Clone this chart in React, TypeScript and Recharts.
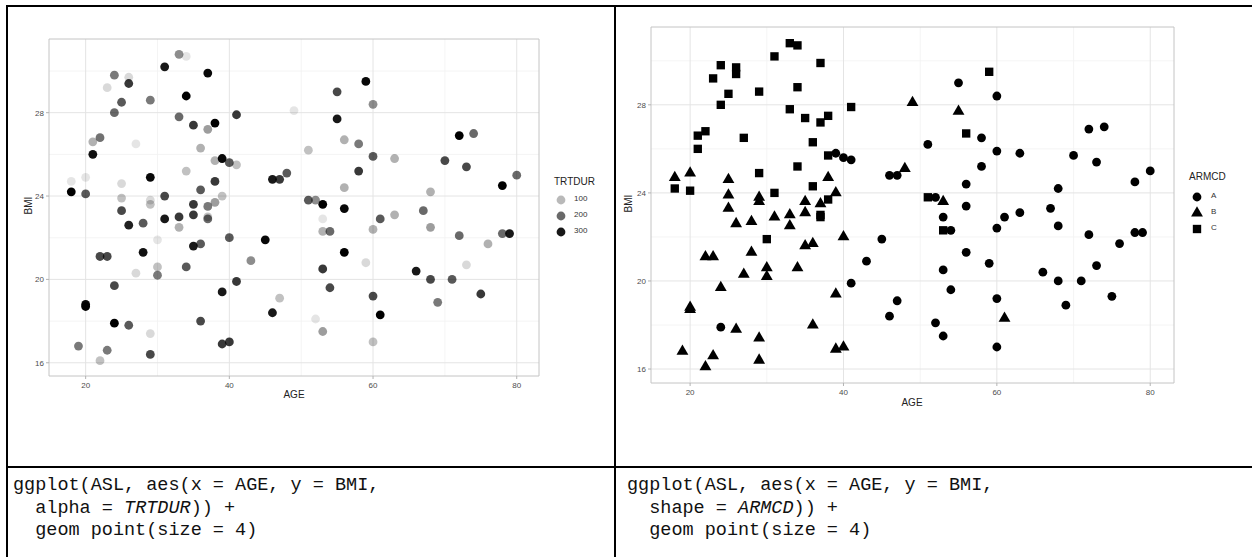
import React from 'react';
import { ScatterChart, Scatter, XAxis, YAxis, CartesianGrid, ReferenceArea } from 'recharts';

// ---------- data (ASL: AGE, BMI, TRTDUR by ARMCD) ----------
const ageA = [24, 39, 40, 41, 41, 43, 45, 46, 46, 47, 47, 51, 52, 52, 53, 53, 53, 54, 54, 55, 56, 56, 56, 58, 58, 59, 60, 60, 60, 60, 60, 61, 63, 63, 66, 67, 68, 68, 68, 69, 70, 71, 72, 72, 73, 73, 74, 75, 76, 78, 78, 79, 80];
const bmiA = [17.9, 25.8, 25.6, 25.5, 19.9, 20.9, 21.9, 24.8, 18.4, 24.8, 19.1, 26.2, 23.8, 18.1, 22.9, 20.5, 17.5, 22.3, 19.6, 29.0, 24.4, 23.4, 21.3, 26.5, 25.2, 20.8, 28.4, 25.9, 22.4, 19.2, 17.0, 22.9, 25.8, 23.1, 20.4, 23.3, 24.2, 22.5, 20.0, 18.9, 25.7, 20.0, 26.9, 22.1, 25.4, 20.7, 27.0, 19.3, 21.7, 24.5, 22.2, 22.2, 25.0];
const trtA = [330, 320, 220, 90, 260, 155, 320, 300, 300, 260, 90, 90, 155, 45, 45, 260, 135, 200, 240, 240, 110, 320, 330, 180, 260, 60, 155, 220, 110, 240, 90, 220, 110, 110, 300, 200, 110, 135, 240, 180, 240, 220, 330, 200, 240, 60, 200, 260, 110, 330, 200, 300, 200];

const ageB = [18, 19, 20, 20, 20, 22, 22, 23, 23, 24, 25, 25, 25, 26, 26, 27, 28, 28, 29, 29, 29, 29, 30, 30, 31, 33, 33, 34, 35, 35, 35, 36, 36, 37, 38, 39, 39, 39, 40, 40, 48, 49, 53, 55, 61];
const bmiB = [24.7, 16.8, 24.9, 18.8, 18.7, 21.1, 16.1, 21.1, 16.6, 19.7, 24.6, 23.9, 23.3, 22.6, 17.8, 20.3, 22.7, 21.3, 23.8, 23.6, 17.4, 16.4, 20.6, 20.2, 22.9, 23.0, 22.5, 20.6, 23.6, 23.1, 21.6, 21.7, 18.0, 23.5, 24.7, 24.0, 19.4, 16.9, 22.0, 17.0, 25.1, 28.1, 23.6, 27.7, 18.3];
const trtB = [45, 180, 45, 320, 330, 240, 90, 240, 180, 240, 60, 90, 240, 290, 220, 60, 220, 310, 60, 90, 60, 240, 90, 180, 300, 260, 110, 220, 260, 260, 300, 220, 240, 180, 260, 90, 300, 260, 220, 260, 220, 45, 330, 300, 330];

const ageC = [18, 20, 21, 21, 22, 23, 24, 24, 25, 26, 26, 27, 29, 29, 30, 31, 31, 33, 33, 34, 34, 34, 35, 36, 36, 37, 37, 37, 37, 38, 38, 38, 41, 51, 53, 56, 59];
const bmiC = [24.2, 24.1, 26.6, 26.0, 26.8, 29.2, 29.8, 28.0, 28.5, 29.7, 29.4, 26.5, 28.6, 24.9, 21.9, 30.2, 24.0, 30.8, 27.8, 30.7, 28.8, 25.2, 27.4, 26.3, 24.3, 29.9, 27.2, 23.0, 22.9, 27.5, 25.7, 23.7, 27.9, 23.8, 22.3, 26.7, 29.5];
const trtC = [330, 220, 110, 310, 190, 60, 180, 200, 220, 60, 260, 45, 180, 320, 45, 300, 240, 155, 200, 45, 330, 90, 260, 110, 220, 320, 135, 90, 200, 330, 110, 135, 260, 220, 110, 110, 320];

const AGE_TICKS = [20, 40, 60, 80];
const AGE_MINOR = [30, 50, 70];
const BMI_TICKS = [16, 20, 24, 28];
const BMI_MINOR = [18, 22, 26, 30];
const TRTDUR_BREAKS = [100, 200, 300];
const ARMCD_LEVELS = ['A', 'B', 'C'];

const CODE_LEFT = ['ggplot(ASL, aes(x = AGE, y = BMI,', 'TRTDUR', 'geom point(size = 4)'];
const CODE_RIGHT = ['ggplot(ASL, aes(x = AGE, y = BMI,', 'ARMCD', 'geom point(size = 4)'];

// ---------- derived ----------
type Row = { AGE: number; BMI: number; TRTDUR: number; ARMCD: string };
const build = (arm: string, a: number[], b: number[], t: number[]): Row[] =>
  a.map((v, i) => ({ AGE: v, BMI: b[i], TRTDUR: t[i], ARMCD: arm }));
const dataA = build('A', ageA, bmiA, trtA);
const dataB = build('B', ageB, bmiB, trtB);
const dataC = build('C', ageC, bmiC, trtC);
const allData = [...dataA, ...dataB, ...dataC];

const expand = (vals: number[]): [number, number] => {
  const lo = Math.min(...vals);
  const hi = Math.max(...vals);
  const d = (hi - lo) * 0.05;
  return [lo - d, hi + d];
};
const xDom = expand(allData.map((d) => d.AGE));
const yDom = expand(allData.map((d) => d.BMI));
const tMin = Math.min(...allData.map((d) => d.TRTDUR));
const tMax = Math.max(...allData.map((d) => d.TRTDUR));
const alphaOf = (v: number) => 0.1 + 0.9 * (v - tMin) / (tMax - tMin);

const SANS = "'Liberation Sans', Arial, sans-serif";
const MONO = "'Liberation Mono', 'Courier New', monospace";
const R = 4.4;

const circleShape = (p: any) => <circle cx={p.cx} cy={p.cy} r={R} fill="#000" />;
const triShape = (p: any) => {
  const { cx, cy } = p;
  const top = 1.555 * R, bot = 0.778 * R, hw = 1.347 * R;
  return <polygon points={`${cx},${cy - top} ${cx + hw},${cy + bot} ${cx - hw},${cy + bot}`} fill="#000" />;
};
const sqShape = (p: any) => {
  const h = 0.95 * R;
  return <rect x={p.cx - h} y={p.cy - h} width={2 * h} height={2 * h} fill="#000" />;
};
const alphaShape = (p: any) => (
  <circle cx={p.cx} cy={p.cy} r={R} fill="#000" fillOpacity={alphaOf(p.payload.TRTDUR)} />
);

const tickStyle = { fill: '#4d4d4d', fontSize: 8, fontFamily: SANS };

const gridAndAxes = (yw: number, xh: number) => [
  <CartesianGrid key="gmin" stroke="#f1f1f1" strokeWidth={0.8} horizontalValues={BMI_MINOR} verticalValues={AGE_MINOR} />,
  <CartesianGrid key="gmaj" stroke="#e4e4e4" strokeWidth={1} horizontalValues={BMI_TICKS} verticalValues={AGE_TICKS} />,
  <XAxis key="x" type="number" dataKey="AGE" domain={xDom} ticks={AGE_TICKS} allowDataOverflow height={xh}
    axisLine={false} tickSize={3} tickMargin={3} tickLine={{ stroke: '#b3b3b3' }} tick={tickStyle} />,
  <YAxis key="y" type="number" dataKey="BMI" domain={yDom} ticks={BMI_TICKS} allowDataOverflow width={yw}
    axisLine={false} tickSize={3} tickMargin={2} tickLine={{ stroke: '#b3b3b3' }} tick={tickStyle} />,
  <ReferenceArea key="border" x1={xDom[0]} x2={xDom[1]} y1={yDom[0]} y2={yDom[1]} ifOverflow="visible"
    fill="none" fillOpacity={0} stroke="#c4c4c4" strokeWidth={1} />,
];

const abs = (l: number, t: number): React.CSSProperties => ({ position: 'absolute', left: l, top: t });

export default function App() {
  const line = (l: number, t: number, w: number, h: number) => (
    <div style={{ ...abs(l, t), width: w, height: h, background: '#000' }} />
  );
  const codeStyle: React.CSSProperties = {
    position: 'absolute', fontFamily: MONO, fontSize: 18.5, lineHeight: '22.5px', whiteSpace: 'pre', color: '#111',
  };
  return (
    <div style={{ ...abs(0, 0), width: 1252, height: 557, background: '#fff', overflow: 'hidden' }}>
      {/* table rules */}
      {line(6, 5, 1246, 2)}
      {line(6, 5, 2, 552)}
      {line(614, 5, 2, 552)}
      {line(6, 466, 1246, 2)}

      {/* left chart: alpha = TRTDUR */}
      <div style={abs(0, 0)}>
        <ScatterChart width={620} height={410} margin={{ top: 39, right: 81, bottom: 0, left: 20 }}>
          {gridAndAxes(29, 34)}
          <Scatter data={allData} shape={alphaShape} isAnimationActive={false} />
        </ScatterChart>
      </div>
      <div style={{ ...abs(294 - 30, 396 - 7), width: 60, textAlign: 'center', fontFamily: SANS, fontSize: 10, color: '#222' }}>AGE</div>
      <div style={{ ...abs(28 - 30, 207 - 7), width: 60, textAlign: 'center', fontFamily: SANS, fontSize: 10, color: '#222', transform: 'rotate(-90deg)' }}>BMI</div>
      <div style={{ ...abs(554, 183 - 7), fontFamily: SANS, fontSize: 10, color: '#222' }}>TRTDUR</div>
      {TRTDUR_BREAKS.map((b, i) => (
        <React.Fragment key={b}>
          <svg style={abs(555, 194 + i * 16)} width={12} height={12}>
            <circle cx={6} cy={6} r={R} fill="#000" fillOpacity={alphaOf(b)} />
          </svg>
          <div style={{ ...abs(574, 200 + i * 16 - 6), fontFamily: SANS, fontSize: 8, color: '#333' }}>{b}</div>
        </React.Fragment>
      ))}

      {/* right chart: shape = ARMCD */}
      <div style={abs(620, 0)}>
        <ScatterChart width={632} height={420} margin={{ top: 27, right: 78, bottom: 0, left: 9 }}>
          {gridAndAxes(22, 37)}
          <Scatter data={dataA} shape={circleShape} isAnimationActive={false} />
          <Scatter data={dataB} shape={triShape} isAnimationActive={false} />
          <Scatter data={dataC} shape={sqShape} isAnimationActive={false} />
        </ScatterChart>
      </div>
      <div style={{ ...abs(912 - 30, 404 - 7), width: 60, textAlign: 'center', fontFamily: SANS, fontSize: 10, color: '#222' }}>AGE</div>
      <div style={{ ...abs(628 - 30, 205 - 7), width: 60, textAlign: 'center', fontFamily: SANS, fontSize: 10, color: '#222', transform: 'rotate(-90deg)' }}>BMI</div>
      <div style={{ ...abs(1189, 178 - 7), fontFamily: SANS, fontSize: 10, color: '#222' }}>ARMCD</div>
      {ARMCD_LEVELS.map((lv, i) => {
        const cy = 197 + i * 16;
        const shape = i === 0 ? circleShape : i === 1 ? triShape : sqShape;
        return (
          <React.Fragment key={lv}>
            <svg style={abs(1189, cy - 8)} width={16} height={16}>{shape({ cx: 8, cy: 8 })}</svg>
            <div style={{ ...abs(1211, cy - 6), fontFamily: SANS, fontSize: 8, color: '#333' }}>{lv}</div>
          </React.Fragment>
        );
      })}

      {/* code cells */}
      <div style={{ ...codeStyle, left: 13, top: 475 }}>
        {CODE_LEFT[0]}{'\n'}{'  alpha = '}<i>{CODE_LEFT[1]}</i>{')) +'}{'\n'}{'  ' + CODE_LEFT[2]}
      </div>
      <div style={{ ...codeStyle, left: 627, top: 475 }}>
        {CODE_RIGHT[0]}{'\n'}{'  shape = '}<i>{CODE_RIGHT[1]}</i>{')) +'}{'\n'}{'  ' + CODE_RIGHT[2]}
      </div>
    </div>
  );
}
